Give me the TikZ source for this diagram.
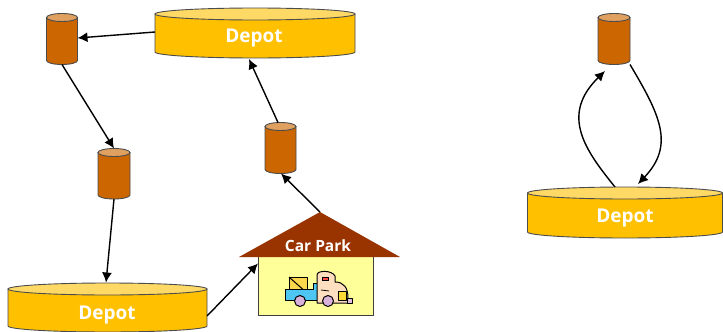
\documentclass[tikz,border=0pt]{standalone}
\usepackage{fontspec}
\setmainfont{Open Sans}
\usetikzlibrary{arrows.meta}
\definecolor{depotbody}{HTML}{FFC000}
\definecolor{depottop}{HTML}{FFD966}
\definecolor{canbody}{HTML}{CC6600}
\definecolor{cantop}{HTML}{E0A060}
\definecolor{roofc}{HTML}{993300}
\definecolor{wallc}{HTML}{FFFF99}
\tikzset{
  frame/.style={draw=black!70!white,line width=.9pt},
  link/.style={draw=black,line width=1.4pt,-{Latex[length=10pt,width=10pt]}},
  hit/.style={inner sep=0pt,outer sep=0pt,minimum width=0pt,minimum height=0pt,anchor=north west},
  label/.style={text=white,font=\bfseries\fontsize{19}{22}\selectfont},
  ink/.style={draw=black,line width=1pt,line join=round}
}
% name, left, top, width, height, ry, body colour, top colour
\newcommand{\drum}[8]{%
  \path[frame,fill=#7] (#2,#3+#6) -- (#2,#3+#5-#6) arc[start angle=180,end angle=360,x radius=#4/2,y radius=-#6] -- (#2+#4,#3+#6) -- cycle;
  \path[frame,fill=#8] (#2+#4/2,#3+#6) ellipse[x radius=#4/2,y radius=#6];
  \node[hit,minimum width=#4,minimum height=#5] (#1) at (#2,#3) {};
}
\begin{document}
\begin{tikzpicture}[x=1pt,y=-1pt]
\useasboundingbox (0,0) rectangle (723,332);
\fill[white] (0,0) rectangle (723,332);
\drum{canA}{46.5}{13.5}{31}{51}{4}{canbody}{cantop}
\drum{canB}{98}{148.5}{32}{50.5}{4}{canbody}{cantop}
\drum{canC}{265}{122.5}{31}{51}{4}{canbody}{cantop}
\drum{canD}{598}{13.5}{32}{51}{4}{canbody}{cantop}
\drum{depotA}{155}{8}{200}{50}{6}{depotbody}{depottop}
\drum{depotB}{8}{283}{199}{49}{6}{depotbody}{depottop}
\drum{depotC}{527.5}{187}{195}{51}{6}{depotbody}{depottop}
\node[label] (tA) at (254,38) {Depot};
\node[label] (tB) at (107,315) {Depot};
\node[label] (tC) at (625,218) {Depot};
% house
\fill[wallc] (258,257) rectangle (373,315);
\draw[black!75!white,line width=1pt] (258,257) -- (258,315) -- (373,315) -- (373,257);
\node[hit,minimum width=161,minimum height=103] (house) at (239,212) {};
\fill[roofc] (320,212) -- (400,257) -- (239,257) -- cycle;
\node[text=white,font=\bfseries\fontsize{15.5}{18}\selectfont] (cp) at (318,246) {Car Park};
% truck
\begin{scope}
\draw[ink,fill=yellow!60!orange!70!white] (289,277) -- (307,277) -- (307,293) -- (289,293) -- cycle;
\draw[ink] (289,277) -- (307,293);
\draw[ink,fill=cyan!70!white] (285,289) -- (313,289) -- (313,283) -- (317,283) -- (317,300) -- (285,300) -- cycle;
\draw[ink,fill=orange!25!white] (317,300) -- (317,275) .. controls (317,270) and (332,270) .. (335,276) -- (335,282) .. controls (344,282) and (348,288) .. (348,298) -- (348,303) -- (317,303) -- cycle;
\fill[red!70!white] (322,277) rectangle (328,280);
\draw[black,line width=.8pt] (322,277) rectangle (328,280);
\draw[black,line width=.8pt] (321,290) -- (329,291);
\draw[ink,fill=yellow!70!orange!80!white] (338,291) rectangle (346,300);
\draw[ink,fill=violet!25!white] (347,298) rectangle (352,303);
\draw[ink,fill=violet!30!white] (300,301) circle[radius=5.5];
\draw[ink,fill=violet!30!white] (328,301) circle[radius=5.5];
\end{scope}
% connectors
\draw[link] (depotA.west |- 155,32) -- (canA.east |- 78,38);
\draw[link] (canA.south) -- (canB.north);
\draw[link] (canB.south) -- (106,282.5) coordinate (dbIn);
\draw[link] (depotB.east |- 207,316) -- (house.west -| 258,285);
\draw[link] (house.north -| 320,212) -- (canC.south -| 281,173);
\draw[link] (canC.north -| 278,122) -- (249,59);
\draw[link] (depotC.north -| 615,184) .. controls (585,150) and (560,115) .. (605,71);
\draw[link] (canD.south -| 630,70) .. controls (660,115) and (675,145) .. (638,184);
\end{tikzpicture}
\end{document}
